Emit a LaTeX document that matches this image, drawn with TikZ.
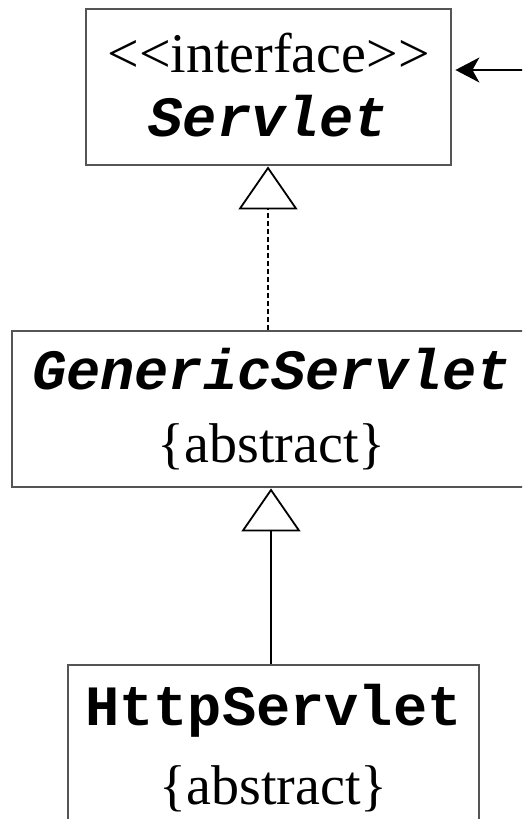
\documentclass[tikz,border=0pt]{standalone}
\usepackage{fontspec}
\setmainfont{Liberation Serif}
\setmonofont{Liberation Mono}
\usetikzlibrary{arrows.meta}
\definecolor{boxline}{RGB}{85,85,85}
\begin{document}
\begin{tikzpicture}[x=1pt,y=-1pt,
  classbox/.style={draw=boxline, line width=2.8pt, rectangle, inner sep=0pt},
  serif/.style={anchor=base, inner sep=0pt, font=\fontsize{56}{60}\selectfont},
  mono/.style={anchor=base, inner sep=0pt, font=\fontsize{57}{60}\selectfont\ttfamily\bfseries},
  monoit/.style={mono, font=\fontsize{57}{60}\selectfont\ttfamily\bfseries\itshape},
  inherit/.style={line width=1.8pt, -{Triangle[open, length=43pt, width=59pt, line width=1.8pt]}},
  assoc/.style={line width=1.8pt, -{Stealth[length=24pt, width=25pt, inset=7pt]}}]
\useasboundingbox (0,0) rectangle (522,819);
\clip (0,0) rectangle (522,819);

% class boxes
\node[classbox, minimum width=365pt, minimum height=156pt] (servlet) at (268.5,87) {};
\node[classbox, minimum width=519pt, minimum height=156pt] (generic) at (271.5,409) {};
\node[classbox, minimum width=411pt, minimum height=240pt] (http) at (273.5,785) {};

% class names and stereotypes
\node[serif] (st1) at (268.5,72) {<{}<interface>{}>};
\node[monoit] (n1) at (268.5,136) {Servlet};
\node[monoit] (n2) at (271.5,389) {GenericServlet};
\node[serif] (a2) at (271.5,462) {\{abstract\}};
\node[mono] (n3) at (273.5,725) {HttpServlet};
\node[serif] (a3) at (273.5,804) {\{abstract\}};

% relations
\draw[inherit, dash pattern=on 5pt off 3pt] (generic.north -| 268,0) -- (servlet.south -| 268,0);
\draw[inherit] (http.north -| 271,0) -- (generic.south -| 271,0);
\coordinate (ext) at (530,70);
\draw[assoc, shorten >=3pt] (ext) -- (ext -| servlet.east);
\end{tikzpicture}
\end{document}
